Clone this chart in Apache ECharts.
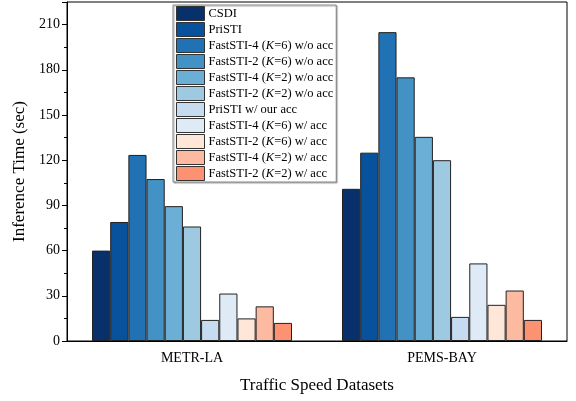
<!DOCTYPE html>
<html><head><meta charset="utf-8">
<script src="https://cdn.jsdelivr.net/npm/echarts@6/dist/echarts.min.js"></script>
<style>html,body{margin:0;padding:0;background:#fff}#c{width:576px;height:401px}</style>
</head><body><div id="c"></div>
<script>
const categories = ['METR-LA', 'PEMS-BAY'];
const seriesNames = [
  'CSDI', 'PriSTI', 'FastSTI-4 (K=6) w/o acc', 'FastSTI-2 (K=6) w/o acc',
  'FastSTI-4 (K=2) w/o acc', 'FastSTI-2 (K=2) w/o acc', 'PriSTI w/ our acc',
  'FastSTI-4 (K=6) w/ acc', 'FastSTI-2 (K=6) w/ acc', 'FastSTI-4 (K=2) w/ acc', 'FastSTI-2 (K=2) w/ acc'
];
const csdi = [60, 101];
const pristi = [79, 125];
const fast4k6 = [123.5, 205];
const fast2k6 = [107.5, 175];
const fast4k2 = [89.5, 135.5];
const fast2k2 = [76, 120];
const pristiAcc = [14, 16];
const fast4k6Acc = [31.5, 51.5];
const fast2k6Acc = [15, 24];
const fast4k2Acc = [23, 33.5];
const fast2k2Acc = [12, 14];
const seriesValues = [csdi, pristi, fast4k6, fast2k6, fast4k2, fast2k2, pristiAcc, fast4k6Acc, fast2k6Acc, fast4k2Acc, fast2k2Acc];
const colors = ['#08306b', '#08519c', '#2171b5', '#4292c6', '#6baed6', '#9ecae1', '#c6dbef', '#deebf7', '#fee6d8', '#fcbba1', '#fc9272'];
const yTicks = [0, 30, 60, 90, 120, 150, 180, 210];

const font = 'Liberation Serif';
const chart = echarts.init(document.getElementById('c'));
chart.setOption({
  animation: false,
  grid: { left: 67, right: 9, top: 2, bottom: 60, show: true, borderColor: '#000', borderWidth: 1 },
  legend: {
    orient: 'vertical', left: 173, top: 5,
    icon: 'rect',
    itemWidth: 28, itemHeight: 14, itemGap: 1,
    padding: [1, 3, 1, 3],
    backgroundColor: '#fff', borderColor: '#888', borderWidth: 1,
    shadowColor: 'rgba(0,0,0,0.35)', shadowOffsetX: 1, shadowOffsetY: 1, shadowBlur: 1,
    data: seriesNames,
    itemStyle: { borderWidth: 1, borderColor: '#333' },
    formatter: function (n) { return n.replace(/\(K=/, '({i|K}='); },
    textStyle: {
      fontFamily: font, fontSize: 12.5, color: '#000', lineHeight: 13, height: 13, padding: [0, 0, 0, -1],
      rich: { i: { fontFamily: font, fontStyle: 'italic', fontSize: 12.5, lineHeight: 13, height: 13, color: '#000' } }
    }
  },
  xAxis: {
    type: 'category', data: categories,
    name: 'Traffic Speed Datasets', nameLocation: 'middle', nameGap: 36,
    nameTextStyle: { fontFamily: font, fontSize: 17, color: '#000' },
    axisLine: { lineStyle: { color: '#000', width: 1 } },
    axisTick: { alignWithLabel: true, length: 5, lineStyle: { color: '#000' } },
    axisLabel: { fontFamily: font, fontSize: 14, color: '#000', margin: 10 }
  },
  yAxis: {
    type: 'value', min: 0, max: 225, interval: 30,
    name: 'Inference Time (sec)', nameLocation: 'middle', nameGap: 37,
    nameTextStyle: { fontFamily: font, fontSize: 17, color: '#000' },
    axisLine: { show: true, lineStyle: { color: '#000', width: 1 } },
    axisTick: { show: true, length: 5, lineStyle: { color: '#000' } },
    minorTick: { show: true, splitNumber: 2, length: 3, lineStyle: { color: '#000' } },
    splitLine: { show: false },
    axisLabel: {
      fontFamily: font, fontSize: 14, color: '#000', margin: 7, showMaxLabel: false,
      formatter: function (v) { return yTicks.indexOf(v) >= 0 ? String(v) : ''; }
    }
  },
  series: seriesValues.map(function (vals, i) {
    return {
      type: 'bar', name: seriesNames[i], data: vals,
      barGap: '0%', barCategoryGap: '20%',
      itemStyle: { color: colors[i], borderColor: '#222', borderWidth: 1 }
    };
  })
});
</script></body></html>
